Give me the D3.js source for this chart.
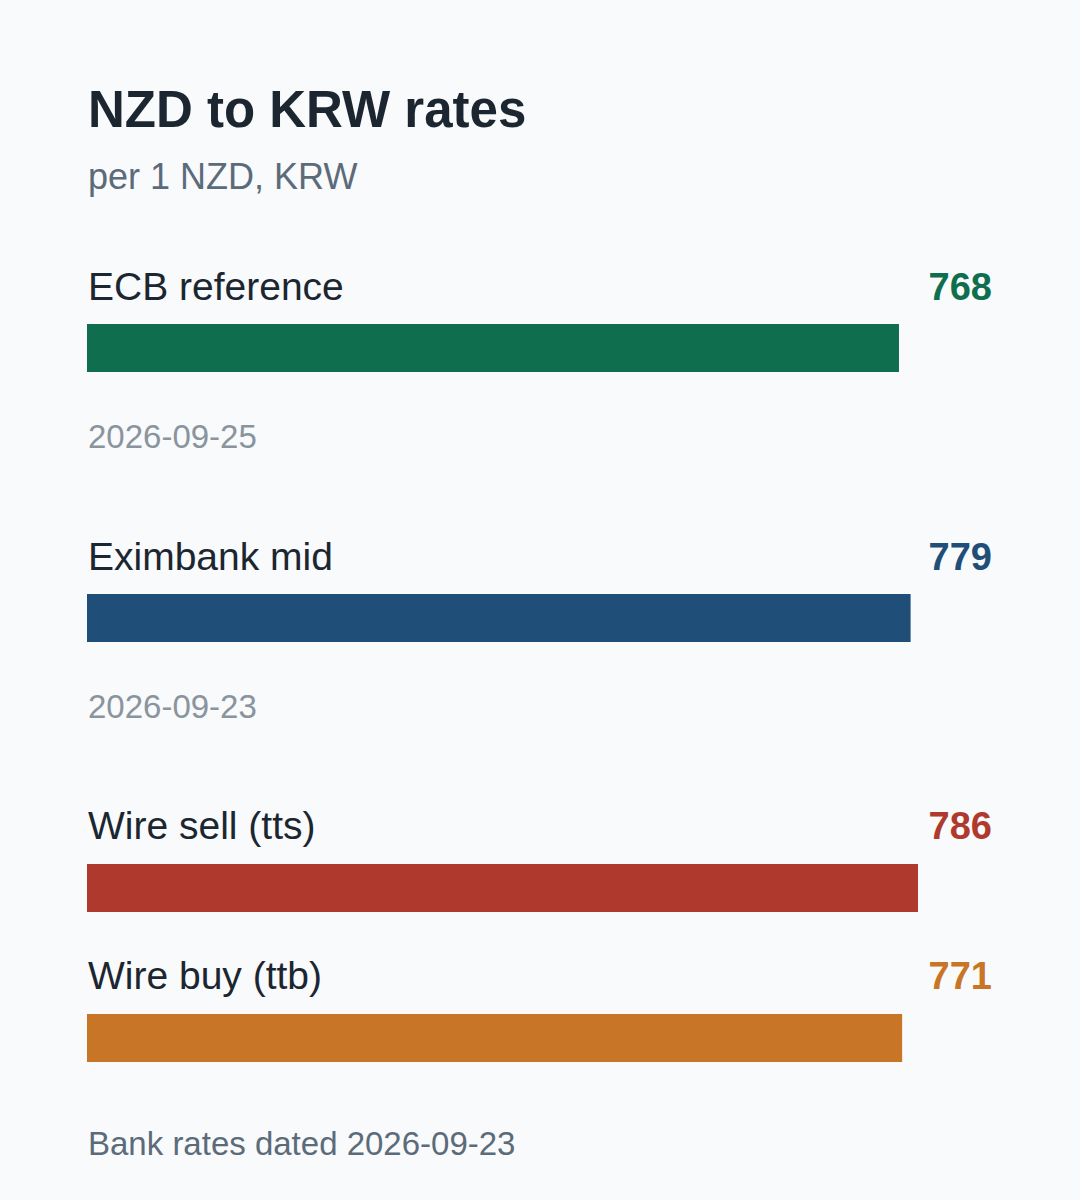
<!DOCTYPE html>
<html>
<head>
<meta charset="utf-8">
<script src="https://cdn.jsdelivr.net/npm/d3@7"></script>
<style>
  html, body { margin: 0; padding: 0; background: #f8fafc; }
  svg { display: block; font-family: "Liberation Sans", Arial, sans-serif; }
</style>
</head>
<body>
<svg id="chart" width="1080" height="1200"></svg>
<script>
const titleText = "NZD to KRW rates";
const subtitleText = "per 1 NZD, KRW";
const footerText = "Bank rates dated 2026-09-23";

const labels = ["ECB reference", "Eximbank mid", "Wire sell (tts)", "Wire buy (ttb)"];
const values = [768, 779, 786, 771];
const valueLabels = ["768", "779", "786", "771"];
const dates = ["2026-09-25", "2026-09-23", null, null];
const colors = ["#0e6e4e", "#1f4e79", "#b0392e", "#c87528"];

const svg = d3.select("#chart");
svg.append("rect").attr("width", 1080).attr("height", 1200).attr("fill", "#f8fafc");

const left = 87, right = 992;
const x = d3.scaleLinear().domain([0, d3.max(values)]).range([0, 831]);

svg.append("text").attr("x", 88).attr("y", 127)
  .attr("font-size", 51).attr("font-weight", "bold").attr("fill", "#1c2630")
  .text(titleText);
svg.append("text").attr("x", 88).attr("y", 189)
  .attr("font-size", 36).attr("fill", "#5c6b7a")
  .text(subtitleText);

const rowBase = [300, 570, 839, 989];

const rows = svg.selectAll("g.row").data(labels.map((l, i) => ({
  label: l, value: values[i], vl: valueLabels[i], date: dates[i], color: colors[i], base: rowBase[i]
}))).join("g").attr("class", "row");

rows.append("text").attr("x", 88).attr("y", d => d.base)
  .attr("font-size", 39).attr("fill", "#1c2630").text(d => d.label);
rows.append("text").attr("x", right).attr("y", d => d.base)
  .attr("text-anchor", "end").attr("font-size", 38).attr("font-weight", "bold")
  .attr("fill", d => d.color).text(d => d.vl);
rows.append("rect").attr("x", left).attr("y", (d, i) => [324, 594, 864, 1014][i])
  .attr("width", d => x(d.value)).attr("height", 48).attr("fill", d => d.color);
rows.filter(d => d.date).append("text").attr("x", 88).attr("y", d => d.base + 148)
  .attr("font-size", 33).attr("fill", "#8a949d").text(d => d.date);

svg.append("text").attr("x", 88).attr("y", 1155)
  .attr("font-size", 33).attr("fill", "#5c6b7a").text(footerText);
</script>
</body>
</html>
